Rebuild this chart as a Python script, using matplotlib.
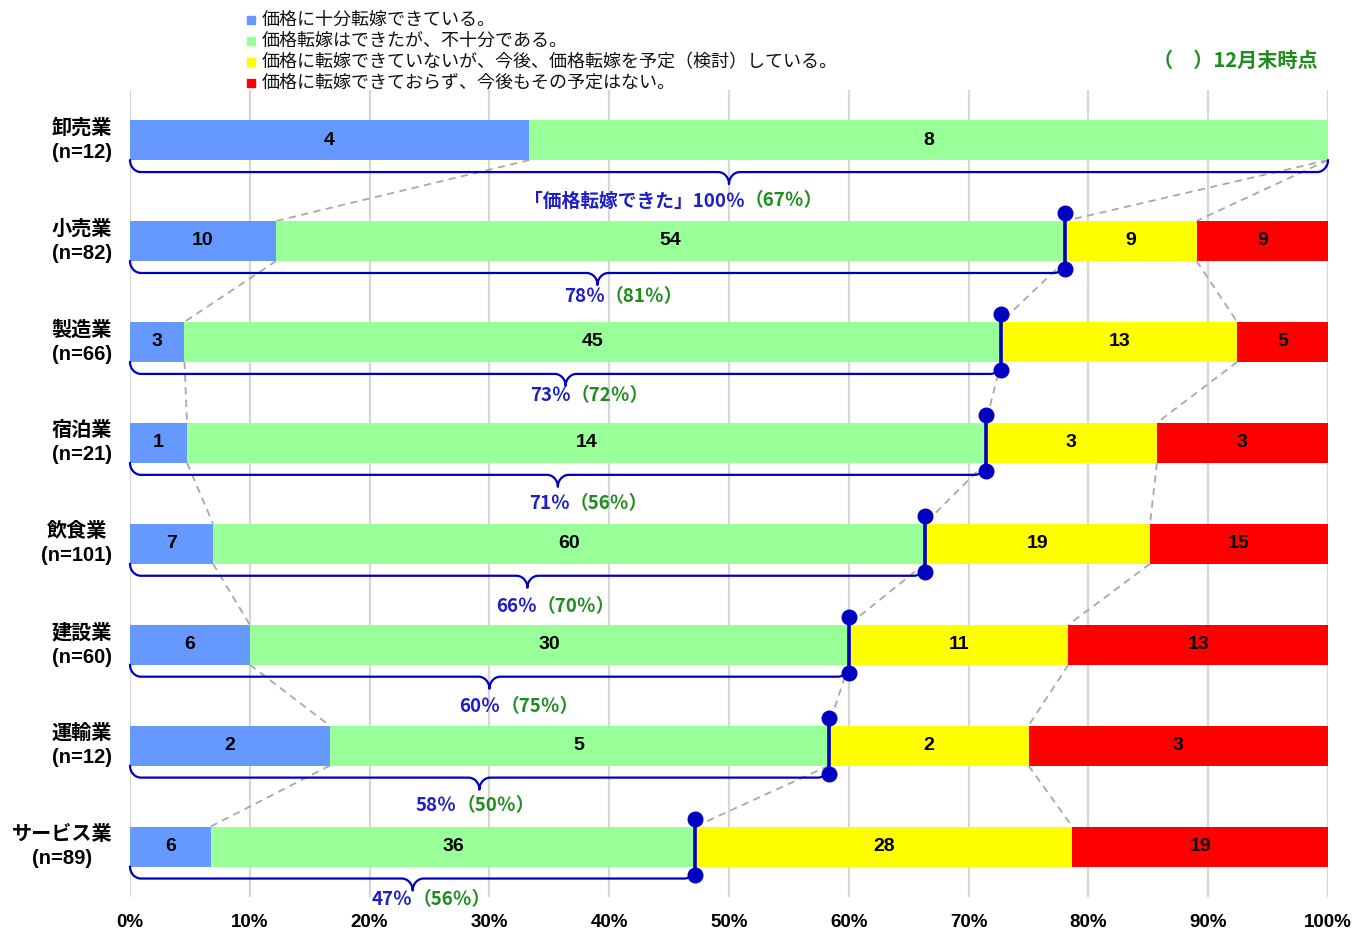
import numpy as np
import matplotlib
matplotlib.use("Agg")
import matplotlib.pyplot as plt
from matplotlib.patches import Rectangle

plt.rcParams['font.family'] = ['Liberation Sans', 'Noto Sans CJK JP', 'DejaVu Sans']

# ---------------- data ----------------
categories = ["卸売業", "小売業", "製造業", "宿泊業", "飲食業", "建設業", "運輸業", "サービス業"]
n_counts = [12, 82, 66, 21, 101, 60, 12, 89]
full_pass = [4, 10, 3, 1, 7, 6, 2, 6]          # 価格に十分転嫁できている
partial_pass = [8, 54, 45, 14, 60, 30, 5, 36]   # 価格転嫁はできたが、不十分
planned = [0, 9, 13, 3, 19, 11, 2, 28]          # 今後、価格転嫁を予定（検討）
no_plan = [0, 9, 5, 3, 15, 13, 3, 19]           # 予定はない
pct_now = [100, 78, 73, 71, 66, 60, 58, 47]     # 価格転嫁できた（現在）
pct_dec = [67, 81, 72, 56, 70, 75, 50, 56]      # 12月末時点
legend_labels = [
    "価格に十分転嫁できている。",
    "価格転嫁はできたが、不十分である。",
    "価格に転嫁できていないが、今後、価格転嫁を予定（検討）している。",
    "価格に転嫁できておらず、今後もその予定はない。",
]
xticks = [0, 10, 20, 30, 40, 50, 60, 70, 80, 90, 100]

# ---------------- style ----------------
colors = ["#6699FF", "#99FF99", "#FFFF00", "#FF0000"]
blue_txt = "#1F1FC8"
green_txt = "#1E8C1E"
mark_col = "#0000C0"
W, H = 1354, 931
fig = plt.figure(figsize=(W / 100, H / 100), dpi=100)
ax_l, ax_r, ax_top, ax_bot = 130, 1328, 89.6, 897
ax = fig.add_axes([ax_l / W, 1 - ax_bot / H, (ax_r - ax_l) / W, (ax_bot - ax_top) / H])

nrow = len(categories)
ax.set_xlim(0, 100)
ax.set_ylim(nrow - 0.5, -0.5)
px_x = 100 / (ax_r - ax_l)
px_y = 1 / ((ax_bot - ax_top) / nrow)
bar_h = 40 * px_y

series = np.array([full_pass, partial_pass, planned, no_plan], dtype=float)
totals = np.array(n_counts, dtype=float)
shares = series / totals * 100
cum = np.cumsum(shares, axis=0)
left = np.vstack([np.zeros(nrow), cum[:-1]])
ypos = np.arange(nrow)

for k in range(4):
    ax.barh(ypos, shares[k], left=left[k], height=bar_h, color=colors[k], zorder=2)
    for i in range(nrow):
        v = series[k, i]
        if v > 0:
            ax.text(left[k, i] + shares[k, i] / 2, i, f"{int(v)}", ha="center", va="center",
                    fontsize=14, fontweight="bold", color="black", zorder=5)

# dashed connectors between bar boundaries
for i in range(nrow - 1):
    for k in range(3):
        ax.plot([cum[k, i], cum[k, i + 1]], [i + bar_h / 2, i + 1 - bar_h / 2],
                color="#A8A8A8", lw=1.3, ls=(0, (4, 3)), zorder=1.5)

# braces
label_dx = [1.3, 0.6, 0.4, 1.0, 0.8, 0.9, -1.9, 0.0]
label_dy = [61, 56, 54, 61, 63, 62, 60, 53]
rx, ry = 11 * px_x, 12 * px_y
th = np.linspace(0, np.pi / 2, 20)
for i in range(nrow):
    end = cum[1, i]
    mid = end / 2
    yb = i + bar_h / 2
    xs, ys = [], []
    xs += list(rx - rx * np.cos(th)); ys += list(yb + ry * np.sin(th))
    xs += list(mid - rx + rx * np.sin(th)); ys += list(yb + 2 * ry - ry * np.cos(th))
    xs += list(mid + rx - rx * np.cos(th)); ys += list(yb + 2 * ry - ry * np.sin(th))
    xs += list(end - rx + rx * np.sin(th)); ys += list(yb + ry * np.cos(th))
    ax.plot(xs, ys, color=mark_col, lw=1.6, zorder=3, solid_capstyle="round", clip_on=False)

    xj = mid + label_dx[i]
    yt = i + label_dy[i] * px_y
    prefix = "「価格転嫁できた」" if i == 0 else ""
    ax.annotate(f"{prefix}{pct_now[i]}％", (xj, yt), xytext=(0, 0), textcoords="offset points",
                ha="right", va="center", color=blue_txt, fontsize=13.5, fontweight="bold",
                family=["Noto Sans CJK JP"], zorder=6, annotation_clip=False)
    ax.annotate(f"（{pct_dec[i]}％）", (xj, yt), xytext=(0, 0), textcoords="offset points",
                ha="left", va="center", color=green_txt, fontsize=13.5, fontweight="bold",
                family=["Noto Sans CJK JP"], zorder=6, annotation_clip=False)

    if end < 99.9:
        y0 = i - bar_h / 2 - 8 * px_y
        y1 = i + bar_h / 2 + 8 * px_y
        ax.plot([end, end], [y0, y1], color=mark_col, lw=2.6, zorder=7, clip_on=False,
                marker="o", markersize=10.5, markerfacecolor=mark_col, markeredgecolor=mark_col)

# category labels
for i in range(nrow):
    ax.text(-1.5, i, f"{categories[i]}\n(n={n_counts[i]})", ha="right", va="center",
            multialignment="center", fontsize=14.5, fontweight="bold", linespacing=1.35,
            transform=ax.transData, clip_on=False)

# axes styling
ax.set_xticks(xticks)
ax.set_xticklabels([f"{t}%" for t in xticks], fontsize=13.5, fontweight="bold")
ax.set_yticks([])
ax.tick_params(axis="x", length=0, pad=12)
ax.grid(axis="x", color="#D6D6D6", lw=1.6, zorder=0)
ax.set_axisbelow(True)
for s in ax.spines.values():
    s.set_visible(False)

# legend (manual)
for j, lab in enumerate(legend_labels):
    yc = 20 + 21 * j
    fig.patches.append(Rectangle((247 / W, 1 - (yc + 4) / H), 8 / W, 8 / H,
                                 transform=fig.transFigure, color=colors[j], figure=fig))
    fig.text(262 / W, 1 - yc / H, lab, ha="left", va="center", fontsize=13,
             family=["Noto Sans CJK JP"], color="#111111")

fig.text(1318 / W, 1 - 60 / H, "（　）12月末時点", ha="right", va="center", fontsize=14.5,
         fontweight="bold", color=green_txt, family=["Noto Sans CJK JP"])

fig.savefig("out.png", dpi=100)
